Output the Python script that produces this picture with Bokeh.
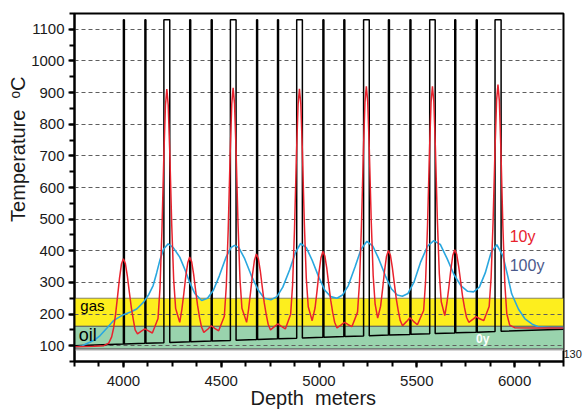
from bokeh.plotting import figure
from bokeh.models import FixedTicker, Label, Range1d, Title, LinearAxis
from bokeh.embed import file_html
from bokeh.resources import INLINE

# ---------------- axes ----------------
x_lo, x_hi = 3750, 6250
y_lo, y_hi = 50, 1150
x_major = [4000, 4500, 5000, 5500, 6000]
x_minor = list(range(3750, 6251, 125))
y_major = list(range(100, 1101, 100))
y_minor = list(range(50, 1151, 50))

# ---------------- zones ----------------
gas_band = (162, 250)
oil_band = (90, 162)
base_band = (84, 90)

# ---------------- 0y profile (intrusions) ----------------
dike_depths = [4000, 4110, 4339, 4449, 4681, 4788, 5020, 5127, 5355, 5465, 5694, 5804]
dike_width = 5
sill_top = [4207, 4547, 4886, 5228, 5566, 5900]
sill_base = [4237, 4576, 4915, 5257, 5594, 5931]
intrusion_temp = 1130
geotherm_depth = [3750, 6250]
geotherm_temp = [100, 152]

# side note at right edge
side_note_temp = 75
side_note_text = "130"

# ---------------- 10y profile ----------------
red_depth = [
    3750, 3850, 3900, 3925, 3940, 3950, 3960, 3970, 3980, 3990, 4000, 4010, 4020, 4030, 4040, 4050, 4060, 4072,
    4092, 4110, 4128, 4148, 4177, 4187, 4197, 4207, 4215, 4222, 4229, 4237, 4247, 4257, 4267, 4288,
    4299, 4309, 4319, 4329, 4339, 4349, 4359, 4369, 4379, 4389, 4399, 4411, 4431, 4449, 4467, 4487,
    4516, 4526, 4536, 4546, 4554, 4561, 4568, 4576, 4586, 4596, 4606, 4630,
    4640, 4650, 4660, 4670, 4680, 4690, 4700, 4710, 4720, 4730, 4740, 4752, 4772, 4790, 4808, 4828,
    4855, 4865, 4875, 4885, 4893, 4900, 4907, 4915, 4925, 4935, 4945, 4965,
    4980, 4990, 5000, 5010, 5020, 5030, 5040, 5050, 5060, 5070, 5080, 5092, 5112, 5130, 5148, 5168,
    5197, 5207, 5217, 5227, 5235, 5242, 5249, 5257, 5267, 5277, 5287, 5300,
    5315, 5325, 5335, 5345, 5355, 5365, 5375, 5385, 5395, 5405, 5415, 5427, 5447, 5465, 5483, 5503,
    5535, 5545, 5555, 5565, 5573, 5580, 5587, 5595, 5605, 5615, 5625, 5643,
    5654, 5664, 5674, 5684, 5694, 5704, 5714, 5724, 5734, 5744, 5754, 5766, 5786, 5804, 5822, 5842,
    5870, 5880, 5890, 5900, 5908, 5915, 5922, 5930, 5940, 5950, 5960, 5975, 6000, 6100, 6250,
]
red_temp = [
    97, 98, 100, 108, 128, 156, 199, 255, 313, 358, 375, 360, 321, 271, 223, 185, 150, 137,
    146, 153, 147, 140, 186, 281, 464, 704, 860, 911, 862, 713, 484, 309, 218, 174,
    215, 265, 320, 362, 380, 365, 326, 276, 228, 190, 160, 142, 152, 163, 155, 147,
    193, 288, 470, 709, 864, 915, 866, 716, 485, 310, 218, 174,
    215, 268, 325, 370, 390, 375, 336, 285, 236, 199, 168, 150, 160, 169, 161, 153,
    199, 292, 472, 709, 862, 912, 864, 716, 487, 313, 223, 179,
    220, 273, 332, 378, 398, 383, 344, 292, 243, 205, 174, 156, 165, 174, 167, 160,
    206, 299, 479, 716, 870, 920, 872, 724, 495, 321, 231, 187,
    225, 278, 336, 382, 401, 386, 347, 297, 249, 211, 180, 163, 176, 188, 177, 166,
    211, 304, 483, 718, 870, 920, 872, 726, 500, 328, 239, 195,
    235, 285, 340, 385, 403, 389, 351, 303, 256, 220, 190, 174, 183, 192, 185, 179,
    224, 316, 492, 725, 876, 925, 874, 719, 478, 296, 201, 165, 157, 156, 156,
]

# ---------------- 100y profile ----------------
blue_depth = [
    3750, 3790, 3814, 3850, 3881, 3915, 3949, 4000, 4040, 4068, 4102, 4130, 4152, 4170, 4186, 4205,
    4229, 4255, 4288, 4315, 4339, 4365, 4400, 4430, 4460, 4490, 4525, 4550, 4568, 4590, 4620, 4655,
    4690, 4720, 4754, 4785, 4815, 4850, 4880, 4906, 4935, 4965, 5000, 5030, 5060, 5092, 5120, 5150,
    5185, 5215, 5245, 5275, 5305, 5340, 5370, 5400, 5426, 5455, 5485, 5520, 5555, 5587, 5620, 5655,
    5690, 5725, 5760, 5790, 5820, 5850, 5880, 5909, 5940, 5965, 5985, 6020, 6053, 6090, 6121, 6180, 6250,
]
blue_temp = [
    95, 100, 107, 117, 132, 155, 179, 198, 207, 216, 237, 262, 290, 330, 369, 405,
    422, 410, 380, 340, 300, 265, 243, 250, 275, 320, 380, 410, 417, 410, 375, 320,
    275, 250, 245, 255, 285, 340, 395, 423, 410, 370, 315, 275, 255, 250, 260, 290,
    350, 405, 430, 415, 375, 320, 280, 260, 256, 265, 300, 365, 415, 432, 420, 375,
    325, 290, 272, 270, 285, 330, 395, 419, 385, 320, 264, 215, 185, 168, 160, 157, 157,
]

FONT = "Liberation Sans"


def geotherm(d):
    g0, g1 = geotherm_temp
    d0, d1 = geotherm_depth
    return g0 + (d - d0) * (g1 - g0) / (d1 - d0)


p = figure(width=584, height=409, output_backend="svg", toolbar_location=None,
           x_range=Range1d(x_lo, x_hi), y_range=Range1d(y_lo, y_hi),
           min_border_left=74, min_border_right=20, min_border_top=13, min_border_bottom=48)
p.background_fill_color = "white"
p.border_fill_color = "white"
p.outline_line_color = "black"
p.outline_line_width = 2

p.xgrid.visible = False
p.ygrid.ticker = FixedTicker(ticks=y_major)
p.ygrid.grid_line_color = "#5f5f5f"
p.ygrid.grid_line_dash = "4 3"
p.ygrid.grid_line_width = 1

p.xaxis.ticker = FixedTicker(ticks=x_major, minor_ticks=x_minor)
p.yaxis.ticker = FixedTicker(ticks=y_major, minor_ticks=y_minor)
for ax in (p.xaxis, p.yaxis):
    ax.axis_line_width = 2
    ax.axis_line_color = "black"
    ax.major_tick_line_width = 2
    ax.minor_tick_line_width = 2
    ax.major_tick_out = 6
    ax.major_tick_in = 0
    ax.minor_tick_out = 5
    ax.minor_tick_in = 0
    ax.major_label_text_font = FONT
    ax.major_label_text_font_size = "15px"
    ax.major_label_text_color = "#1a1a1a"
p.xaxis.major_label_standoff = 8
p.yaxis.major_label_standoff = 4

# right-edge note as a one-tick axis
rax = LinearAxis(ticker=FixedTicker(ticks=[side_note_temp], minor_ticks=[]),
                 major_label_overrides={side_note_temp: side_note_text},
                 axis_line_color=None, major_tick_line_color=None, minor_tick_line_color=None,
                 major_tick_out=0, major_tick_in=0, minor_tick_out=0, minor_tick_in=0,
                 major_label_standoff=0, major_label_text_font=FONT,
                 major_label_text_font_size="11px", major_label_text_color="#1a1a1a")
p.add_layout(rax, "right")

# axis titles (non-breaking second space keeps the wide gap)
p.add_layout(Title(text="Temperature \u00a0\u1d52C", align="right", offset=63, vertical_align="bottom",
                   standoff=0, text_font=FONT, text_font_size="20px", text_font_style="normal",
                   text_color="#1a1a1a"), "left")
p.add_layout(Title(text="Depth \u00a0meters", align="left", offset=176, vertical_align="bottom",
                   standoff=-8, text_font=FONT, text_font_size="20px", text_font_style="normal",
                   text_color="#1a1a1a"), "below")

# zones (below the grid)
p.quad(left=[x_lo], right=[x_hi], bottom=[base_band[0]], top=[base_band[1]],
       fill_color="#c8c8c8", line_color=None, level="image")
p.quad(left=[x_lo], right=[x_hi], bottom=[oil_band[0]], top=[oil_band[1]],
       fill_color="#99d3ad", line_color="#555555", line_width=1, level="image")
p.quad(left=[x_lo], right=[x_hi], bottom=[gas_band[0]], top=[gas_band[1]],
       fill_color="#fdee1e", line_color="#555555", line_width=1, line_alpha=0.7, level="image")

# white interior of sills above the zones
p.quad(left=sill_top, right=sill_base, bottom=[gas_band[1]] * len(sill_top),
       top=[intrusion_temp] * len(sill_top), fill_color="white", line_color=None)

# 0y profile
events = sorted([(d, d + dike_width) for d in dike_depths] + list(zip(sill_top, sill_base)))
bx, by = [x_lo], [geotherm(x_lo)]
for a, b in events:
    bx += [a, a, b, b]
    by += [geotherm(a), intrusion_temp, intrusion_temp, geotherm(b)]
bx.append(x_hi)
by.append(geotherm(x_hi))
p.line(bx, by, line_color="black", line_width=1.5)

# 100y and 10y profiles
p.line(blue_depth, blue_temp, line_color="#2aa7df", line_width=1.6)
p.line(red_depth, red_temp, line_color="#e8222d", line_width=1.5)


def add_label(x, y, text, size, color="black", style="normal"):
    p.add_layout(Label(x=x, y=y, text=text, text_font=FONT, text_font_size=size,
                       text_color=color, text_align="left", text_baseline="middle",
                       text_font_style=style))


add_label(3780, 227, "gas", "15px")
add_label(3772, 135, "oil", "18px")
add_label(5975, 445, "10y", "16px", color="#e8222d")
add_label(5975, 353, "100y", "16px", color="#4b5a8c")
add_label(5803, 122, "0y", "12px", color="white", style="bold")

open("out.html", "w").write(file_html(p, INLINE))
